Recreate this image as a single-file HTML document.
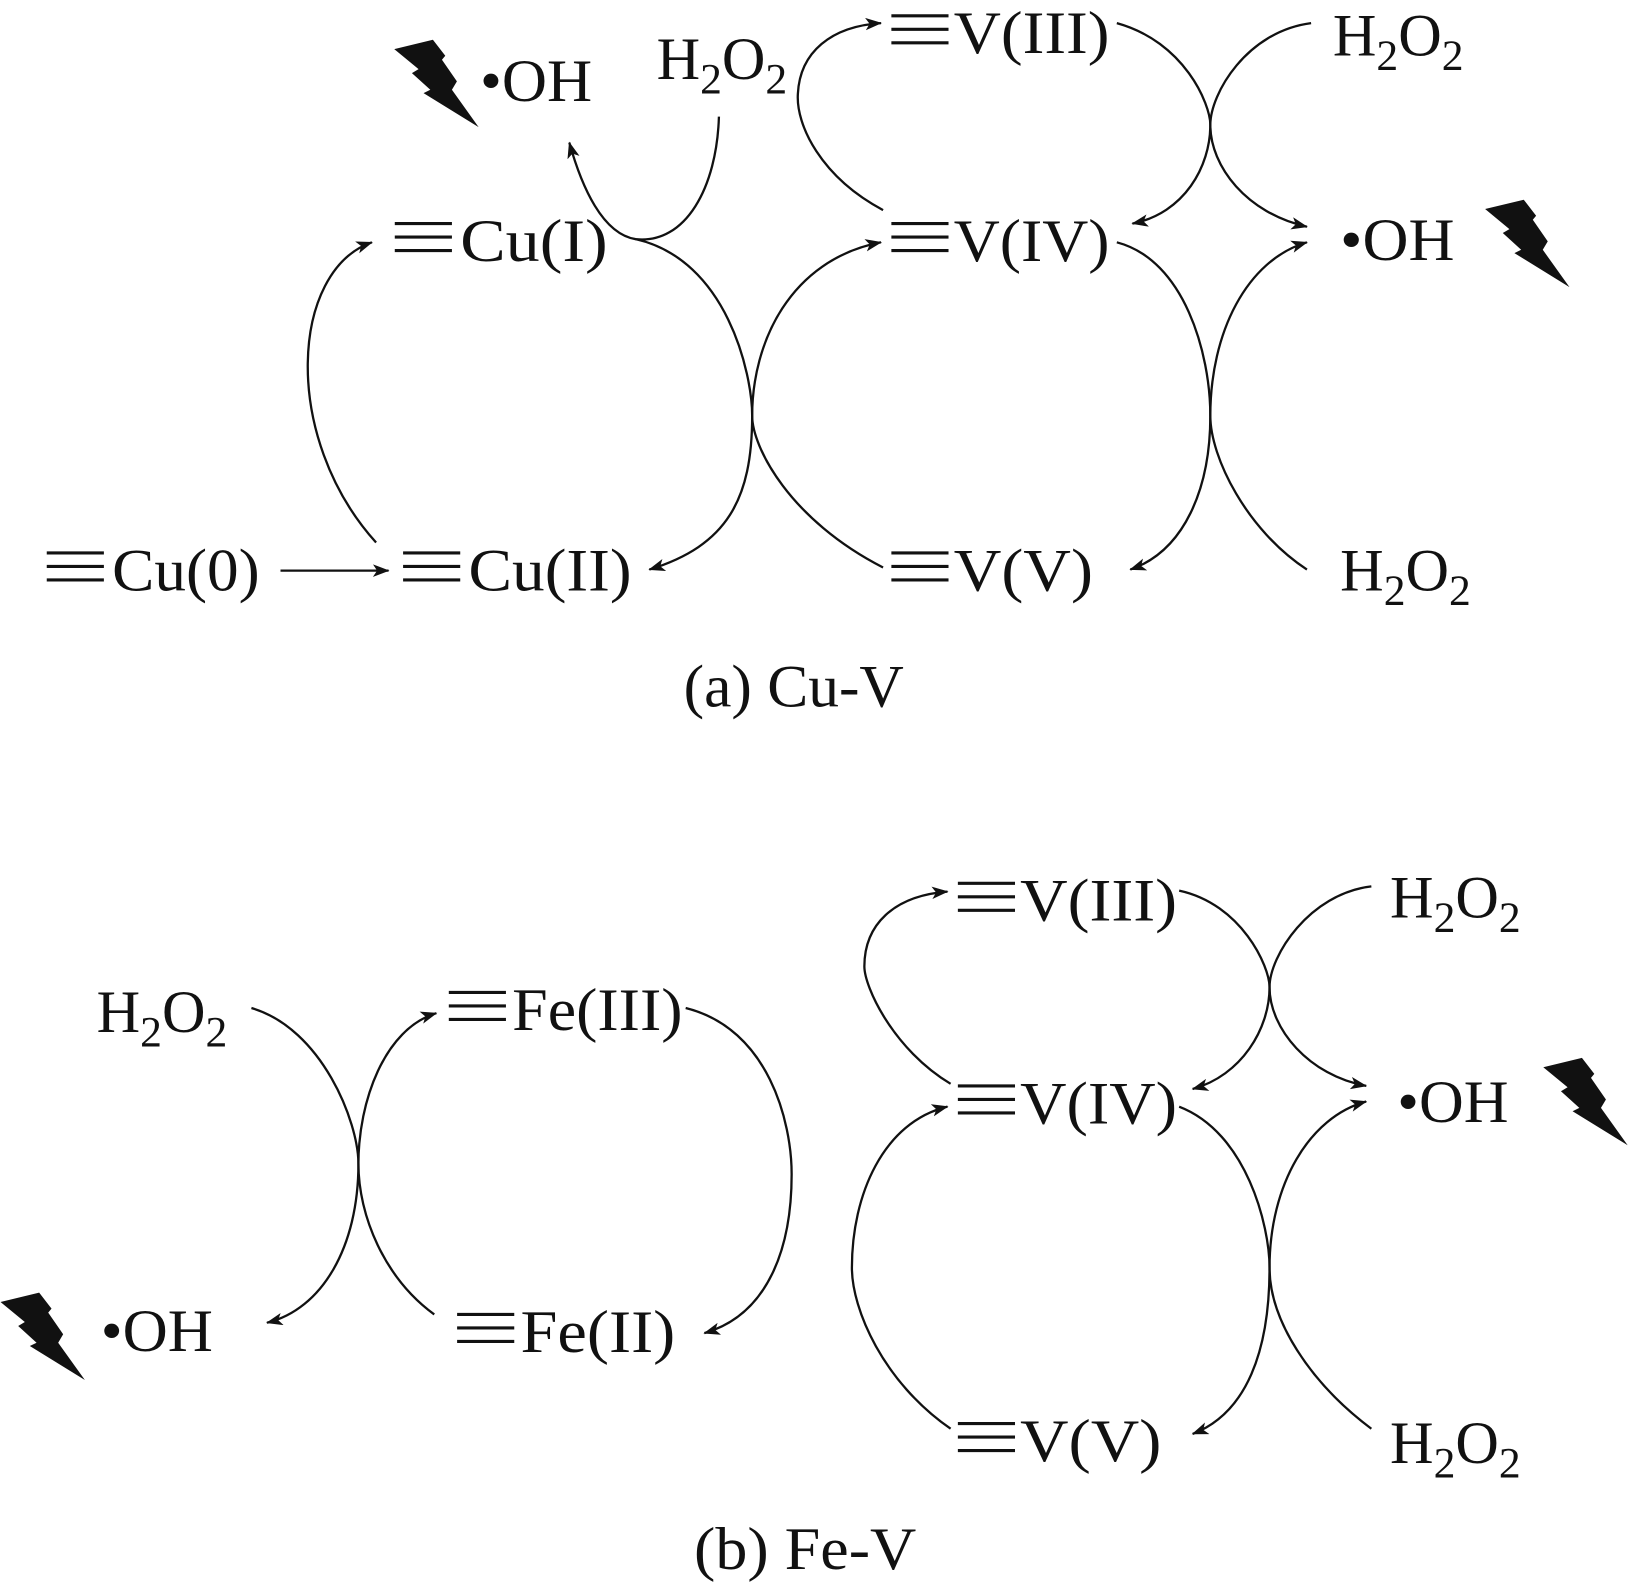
<!DOCTYPE html>
<html><head><meta charset="utf-8"><style>html,body{margin:0;padding:0;background:#fff}svg{display:block}text{font-family:"Liberation Serif",serif;fill:#111}</style></head><body>
<svg width="1629" height="1590" viewBox="0 0 1568 1530" xmlns="http://www.w3.org/2000/svg">
<defs>
<marker id="a" viewBox="0 0 16 12" refX="15" refY="6" markerWidth="16" markerHeight="12" markerUnits="userSpaceOnUse" orient="auto"><path d="M0,0 L16,6 L0,12 L4,6z" fill="#111"/></marker>
<g id="bolt"><polygon points="13.5,9 50.7,0 62.6,15.4 59.4,19.3 73.8,40.1 69,48.2 94.7,84.1 41.7,51.4 48.2,48.2 30.5,32.1 36.9,28.3" fill="#111"/></g>
</defs>
<g fill="none" stroke="#111" stroke-width="2.2" marker-end="url(#a)">
<path d="M362,522 C270,420 280,260 358,233"/>
<path d="M692,112 C690,180 660,235 612,230 C580,225 560,180 548,137"/>
<path d="M612,230 C700,250 724,360 724,400 C724,480 700,525 625,548"/>
<path d="M850,546 C760,500 724,430 724,400 C724,330 760,250 848,233"/>
<path d="M850,202 C790,170 766,120 768,90 C770,50 800,25 848,22"/>
<path d="M1075,22 C1140,40 1165,100 1165,120 C1165,160 1140,205 1090,215"/>
<path d="M1262,22 C1200,30 1165,90 1165,120 C1165,160 1200,205 1258,218"/>
<path d="M1075,233 C1140,250 1165,340 1165,400 C1165,470 1140,530 1088,548"/>
<path d="M1258,548 C1200,510 1165,440 1165,400 C1165,320 1200,250 1258,233"/>
<path d="M270,549 L374,549"/>
<path d="M242,970 C310,990 345,1080 345,1120 C345,1200 310,1260 257,1273"/>
<path d="M418,1265 C370,1230 345,1170 345,1120 C345,1060 370,990 420,975"/>
<path d="M660,970 C740,990 762,1080 762,1130 C762,1200 740,1265 678,1283"/>
<path d="M915,1043 C860,1010 832,950 832,930 C832,890 860,862 912,858"/>
<path d="M1135,857 C1195,870 1222,930 1222,950 C1222,990 1195,1035 1148,1048"/>
<path d="M1320,853 C1260,860 1222,920 1222,950 C1222,990 1260,1035 1315,1045"/>
<path d="M915,1375 C850,1330 820,1260 820,1220 C820,1150 850,1080 912,1065"/>
<path d="M1135,1065 C1200,1090 1222,1180 1222,1220 C1222,1300 1200,1360 1148,1380"/>
<path d="M1320,1375 C1260,1330 1222,1270 1222,1220 C1222,1140 1260,1075 1315,1060"/>
</g>
<use href="#bolt" x="366" y="38"/>
<use href="#bolt" x="1416" y="192"/>
<use href="#bolt" x="1472" y="1018"/>
<use href="#bolt" x="-13" y="1244"/>
<g stroke="#111" stroke-width="3">
<path d="M45,532h55M45,545h55M45,558h55"/>
<path d="M388,532h55M388,545h55M388,558h55"/>
<path d="M380,215h55M380,228h55M380,241h55"/>
<path d="M858,15h55M858,28h55M858,41h55"/>
<path d="M858,215h55M858,228h55M858,241h55"/>
<path d="M858,532h55M858,545h55M858,558h55"/>
<path d="M922,850h55M922,863h55M922,876h55"/>
<path d="M432,955h55M432,968h55M432,981h55"/>
<path d="M922,1045h55M922,1058h55M922,1071h55"/>
<path d="M440,1265h55M440,1278h55M440,1291h55"/>
<path d="M922,1370h55M922,1383h55M922,1396h55"/>
</g>
<g font-size="58">
<text x="108" y="568" textLength="142" lengthAdjust="spacingAndGlyphs">Cu(0)</text>
<text x="451" y="568" textLength="157" lengthAdjust="spacingAndGlyphs">Cu(II)</text>
<text x="443" y="251" textLength="142" lengthAdjust="spacingAndGlyphs">Cu(I)</text>
<text x="918" y="51" textLength="150" lengthAdjust="spacingAndGlyphs">V(III)</text>
<text x="918" y="251" textLength="150" lengthAdjust="spacingAndGlyphs">V(IV)</text>
<text x="918" y="568" textLength="134" lengthAdjust="spacingAndGlyphs">V(V)</text>
<text x="462" y="97" textLength="108" lengthAdjust="spacingAndGlyphs">•OH</text>
<text x="1290" y="250" textLength="110" lengthAdjust="spacingAndGlyphs">•OH</text>
<text x="632" y="76">H<tspan font-size="42" dy="14">2</tspan><tspan dy="-14">O</tspan><tspan font-size="42" dy="14">2</tspan></text>
<text x="1283" y="53">H<tspan font-size="42" dy="14">2</tspan><tspan dy="-14">O</tspan><tspan font-size="42" dy="14">2</tspan></text>
<text x="1290" y="568">H<tspan font-size="42" dy="14">2</tspan><tspan dy="-14">O</tspan><tspan font-size="42" dy="14">2</tspan></text>
<text x="658" y="680" textLength="212" lengthAdjust="spacingAndGlyphs">(a) Cu-V</text>
<text x="982" y="886" textLength="151" lengthAdjust="spacingAndGlyphs">V(III)</text>
<text x="982" y="1081" textLength="151" lengthAdjust="spacingAndGlyphs">V(IV)</text>
<text x="982" y="1406" textLength="136" lengthAdjust="spacingAndGlyphs">V(V)</text>
<text x="493" y="991" textLength="164" lengthAdjust="spacingAndGlyphs">Fe(III)</text>
<text x="501" y="1301" textLength="149" lengthAdjust="spacingAndGlyphs">Fe(II)</text>
<text x="1345" y="1080" textLength="107" lengthAdjust="spacingAndGlyphs">•OH</text>
<text x="97" y="1300" textLength="108" lengthAdjust="spacingAndGlyphs">•OH</text>
<text x="1338" y="883">H<tspan font-size="42" dy="14">2</tspan><tspan dy="-14">O</tspan><tspan font-size="42" dy="14">2</tspan></text>
<text x="93" y="993">H<tspan font-size="42" dy="14">2</tspan><tspan dy="-14">O</tspan><tspan font-size="42" dy="14">2</tspan></text>
<text x="1338" y="1408">H<tspan font-size="42" dy="14">2</tspan><tspan dy="-14">O</tspan><tspan font-size="42" dy="14">2</tspan></text>
<text x="668" y="1510" textLength="214" lengthAdjust="spacingAndGlyphs">(b) Fe-V</text>
</g>
</svg>
</body></html>
